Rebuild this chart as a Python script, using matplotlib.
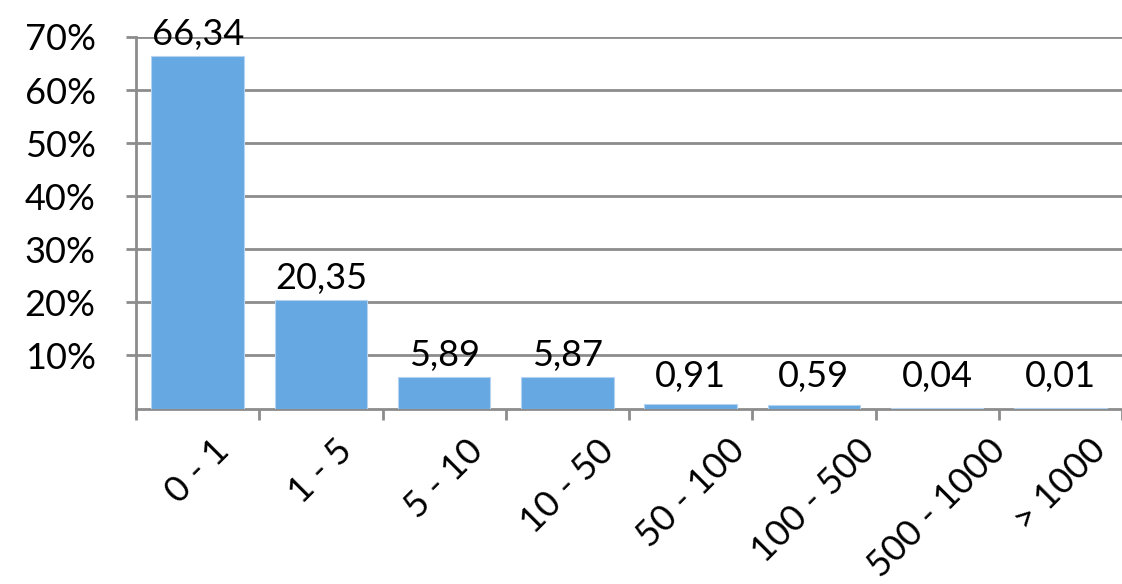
import matplotlib
matplotlib.use('Agg')
import matplotlib.pyplot as plt

plt.rcParams['font.family'] = ['Lato', 'DejaVu Sans']

categories = ['0 - 1', '1 - 5', '5 - 10', '10 - 50', '50 - 100', '100 - 500', '500 - 1000', '> 1000']
values = [66.34, 20.35, 5.89, 5.87, 0.91, 0.59, 0.04, 0.01]
value_labels = ['66,34', '20,35', '5,89', '5,87', '0,91', '0,59', '0,04', '0,01']
y_ticks = [10, 20, 30, 40, 50, 60, 70]

fig = plt.figure(figsize=(11.22, 5.84), dpi=100)
ax = fig.add_axes([136 / 1122, 1 - 408.5 / 584, (1122 - 136) / 1122, 371.5 / 584])

grid_col = '#8c8c8c'
x = list(range(len(categories)))
ax.bar(x, values, width=0.75, color='#66a8e2', edgecolor='#b5d4f1', linewidth=0.8, zorder=3)

for xi, v, lab in zip(x, values, value_labels):
    ax.text(xi, max(v, 2.0) + 1.0, lab, ha='center', va='bottom', fontsize=26, zorder=4)

ax.set_xlim(-0.5, len(categories) - 0.5)
ax.set_ylim(0, 70)
ax.set_yticks(y_ticks)
ax.set_yticklabels([f'{t}%' for t in y_ticks], fontsize=26)
ax.yaxis.grid(True, color=grid_col, linewidth=2, zorder=0)
ax.set_axisbelow(True)

# major ticks sit between categories, labels on minor ticks at the centres
ax.set_xticks([i + 0.5 for i in range(-1, len(categories))], minor=False)
ax.set_xticklabels([])
ax.set_xticks(x, minor=True)
ax.set_xticklabels(categories, minor=True, rotation=45, ha='center', va='top', fontsize=26)
ax.tick_params(axis='x', which='major', length=8, width=2, color=grid_col, direction='out')
ax.tick_params(axis='x', which='minor', length=0, pad=18)
ax.tick_params(axis='y', length=7, width=2, color=grid_col, pad=22)

for side in ['top', 'right']:
    ax.spines[side].set_visible(False)
ax.spines['left'].set_color(grid_col)
ax.spines['left'].set_linewidth(2)
ax.spines['bottom'].set_color(grid_col)
ax.spines['bottom'].set_linewidth(2)

fig.savefig('out.png', dpi=100)
